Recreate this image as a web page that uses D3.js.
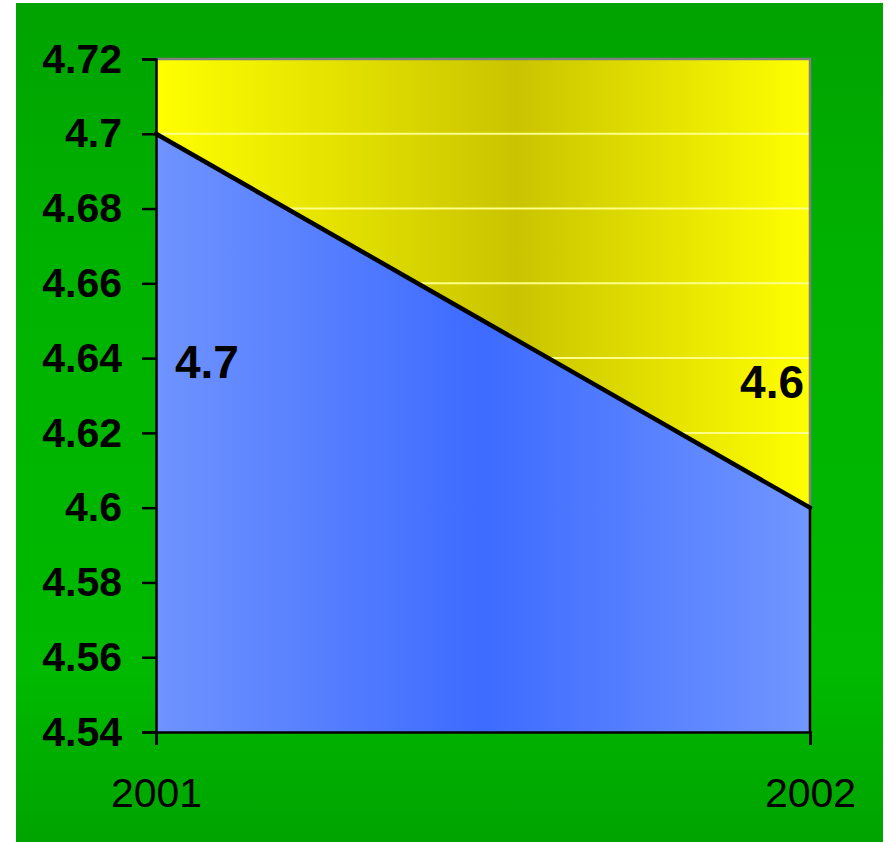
<!DOCTYPE html>
<html>
<head>
<meta charset="utf-8">
<script src="https://cdn.jsdelivr.net/npm/d3@7"></script>
<style>
  body { margin: 0; background: #fff; }
  svg { display: block; font-family: "Liberation Sans", Arial, sans-serif; }
</style>
</head>
<body>
<svg width="888" height="843"></svg>
<script>
// chart data
var years = ["2001", "2002"];
var values = [4.7, 4.6];
var yTicks = [4.54, 4.56, 4.58, 4.6, 4.62, 4.64, 4.66, 4.68, 4.7, 4.72];

var svg = d3.select("svg");
var defs = svg.append("defs");

// background gradient (green panel)
var bg = defs.append("linearGradient").attr("id", "bgGrad")
    .attr("x1", 0).attr("y1", 0).attr("x2", 0).attr("y2", 1);
bg.append("stop").attr("offset", "0%").attr("stop-color", "#00a200");
bg.append("stop").attr("offset", "30%").attr("stop-color", "#00b200");
bg.append("stop").attr("offset", "80%").attr("stop-color", "#00b900");
bg.append("stop").attr("offset", "100%").attr("stop-color", "#00a300");

// plot area - yellow, darker in the middle
var yel = defs.append("linearGradient").attr("id", "yelGrad")
    .attr("x1", 0).attr("y1", 0).attr("x2", 1).attr("y2", 0);
yel.append("stop").attr("offset", "0%").attr("stop-color", "#ffff00");
yel.append("stop").attr("offset", "55%").attr("stop-color", "#c9c400");
yel.append("stop").attr("offset", "100%").attr("stop-color", "#ffff00");

// area - blue, darker in the middle
var blu = defs.append("linearGradient").attr("id", "bluGrad")
    .attr("x1", 0).attr("y1", 0).attr("x2", 1).attr("y2", 0);
blu.append("stop").attr("offset", "0%").attr("stop-color", "#6f93ff");
blu.append("stop").attr("offset", "50%").attr("stop-color", "#3d6bff");
blu.append("stop").attr("offset", "100%").attr("stop-color", "#7196ff");

svg.append("rect")
    .attr("x", 16).attr("y", 3)
    .attr("width", 867).attr("height", 839)
    .attr("fill", "url(#bgGrad)");

var x = d3.scalePoint().domain(years).range([156, 810]);
var y = d3.scaleLinear().domain([4.54, 4.72]).range([732, 59]);

var plot = svg.append("g");

plot.append("rect")
    .attr("x", x(years[0])).attr("y", y(4.72))
    .attr("width", x(years[1]) - x(years[0]))
    .attr("height", y(4.54) - y(4.72))
    .attr("fill", "url(#yelGrad)");

// gridlines
plot.selectAll("line.grid")
    .data(yTicks.slice(1, -1))
    .enter().append("line")
    .attr("class", "grid")
    .attr("x1", x(years[0])).attr("x2", x(years[1]))
    .attr("y1", function(d) { return y(d); })
    .attr("y2", function(d) { return y(d); })
    .attr("stroke", "#ffff88")
    .attr("stroke-width", 2);

var pts = years.map(function(d, i) { return { year: d, v: values[i] }; });

var area = d3.area()
    .x(function(d) { return x(d.year); })
    .y0(y(4.54))
    .y1(function(d) { return y(d.v); });

plot.append("path")
    .datum(pts)
    .attr("d", area)
    .attr("fill", "url(#bluGrad)");

// plot border (top + right)
plot.append("path")
    .attr("d", "M" + x(years[0]) + "," + y(4.72) + "H" + x(years[1]) + "V" + y(4.54))
    .attr("fill", "none")
    .attr("stroke", "#808080")
    .attr("stroke-width", 2.5);

// right edge of the area is outlined in black
plot.append("line")
    .attr("x1", x(years[1])).attr("x2", x(years[1]))
    .attr("y1", y(values[1])).attr("y2", y(4.54))
    .attr("stroke", "#000")
    .attr("stroke-width", 2.5);

var line = d3.line()
    .x(function(d) { return x(d.year); })
    .y(function(d) { return y(d.v); });

plot.append("path")
    .datum(pts)
    .attr("d", line)
    .attr("fill", "none")
    .attr("stroke", "#000")
    .attr("stroke-width", 4.5)
    .attr("stroke-linecap", "round");

// axes
var yAxis = svg.append("g")
    .attr("transform", "translate(" + x(years[0]) + ",0)")
    .call(d3.axisLeft(y).tickValues(yTicks).tickSize(14).tickPadding(20)
        .tickFormat(function(d) { return d3.format("")(+d.toFixed(2)); }));
yAxis.select(".domain").attr("stroke", "#000").attr("stroke-width", 2.5);
yAxis.selectAll(".tick line").attr("stroke", "#000").attr("stroke-width", 2.5);
yAxis.selectAll("text")
    .attr("fill", "#000")
    .attr("font-size", 41)
    .attr("font-weight", "bold")
    .attr("font-family", "'Liberation Sans', Arial, sans-serif");

var xAxis = svg.append("g")
    .attr("transform", "translate(0," + y(4.54) + ")")
    .call(d3.axisBottom(x).tickSize(13).tickPadding(33));
xAxis.select(".domain").attr("stroke", "#000").attr("stroke-width", 2.5);
xAxis.selectAll(".tick line").attr("stroke", "#000").attr("stroke-width", 2.5);
xAxis.selectAll("text")
    .attr("fill", "#000")
    .attr("font-size", 41)
    .attr("font-family", "'Liberation Sans', Arial, sans-serif");

// data labels
svg.append("text")
    .attr("x", x(years[0]) + 19).attr("y", 378)
    .attr("font-size", 46).attr("font-weight", "bold")
    .text(values[0]);
svg.append("text")
    .attr("x", x(years[1]) - 6).attr("y", 398)
    .attr("text-anchor", "end")
    .attr("font-size", 46).attr("font-weight", "bold")
    .text(values[1]);
</script>
</body>
</html>
